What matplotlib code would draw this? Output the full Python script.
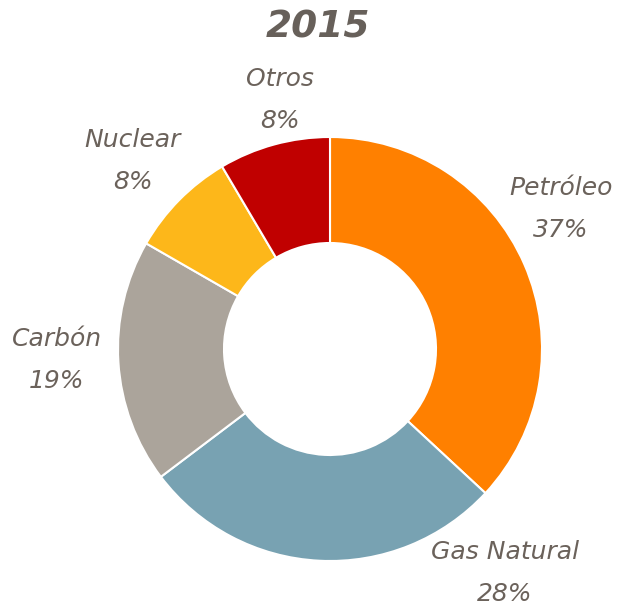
import matplotlib
matplotlib.use("Agg")
import matplotlib.pyplot as plt

title = "2015"
categories = ["Petróleo", "Gas Natural", "Carbón", "Nuclear", "Otros"]
values = [36.9, 27.8, 18.6, 8.2, 8.5]
pct_labels = ["37%", "28%", "19%", "8%", "8%"]
colors = ["#FF8000", "#78A2B2", "#ABA49B", "#FDB71A", "#C00000"]

# label layout (pixel positions of label centres, top-origin)
label_pos = [(561, 209), (505, 573), (57, 360), (133, 161), (280, 100)]

W, H = 617, 607
fig = plt.figure(figsize=(W / 100, H / 100), dpi=100)
ax = fig.add_axes([0, 0, 1, 1])

cx, cy, R = 330, H - 349, 212
ax.pie(values, colors=colors, startangle=90, counterclock=False,
       center=(cx, cy), radius=R, frame=True,
       wedgeprops=dict(width=R * 0.5, edgecolor="white", linewidth=1.5))
ax.set_xlim(0, W)
ax.set_ylim(0, H)
ax.set_aspect("equal")
ax.axis("off")

txt = "#6B625B"
for name, p, (x, y) in zip(categories, pct_labels, label_pos):
    ax.text(x, H - y, f"{name}\n{p}", ha="center", va="center",
            fontsize=18, style="italic", color=txt, linespacing=1.9,
            family="DejaVu Sans")

ax.text(318, H - 27, title, ha="center", va="center", fontsize=27,
        style="italic", weight="bold", color="#67605A", family="DejaVu Sans")

fig.savefig("out.png", dpi=100)
